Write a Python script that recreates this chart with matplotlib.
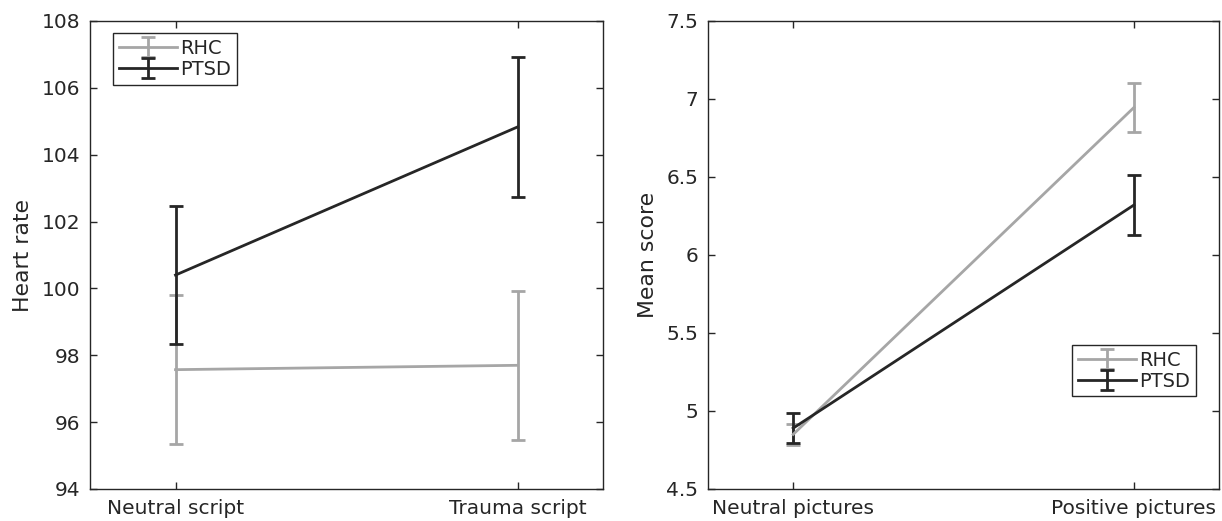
import matplotlib
matplotlib.use("Agg")
import matplotlib.pyplot as plt
import numpy as np

plt.rcParams['font.family'] = ['DejaVu Sans']

# Left panel data
hr_conditions = ["Neutral script", "Trauma script"]
hr_rhc_mean = [97.57, 97.70]
hr_rhc_err = [2.23, 2.22]
hr_ptsd_mean = [100.40, 104.83]
hr_ptsd_err = [2.07, 2.08]
hr_yticks = [94, 96, 98, 100, 102, 104, 106, 108]

# Right panel data
ms_conditions = ["Neutral pictures", "Positive pictures"]
ms_rhc_mean = [4.85, 6.945]
ms_rhc_err = [0.065, 0.155]
ms_ptsd_mean = [4.89, 6.32]
ms_ptsd_err = [0.097, 0.19]
ms_yticks = [4.5, 5, 5.5, 6, 6.5, 7, 7.5]
ms_yticklabels = ["4.5", "5", "5.5", "6", "6.5", "7", "7.5"]

GRAY = "#a6a6a6"
DARK = "#262626"
AXC = "#262626"

fig = plt.figure(figsize=(12.22, 5.21), dpi=100)
ax1 = fig.add_axes([90/1222, 32/521, 513/1222, 468/521])
ax2 = fig.add_axes([708/1222, 32/521, 511/1222, 468/521])

def style(ax):
    for s in ax.spines.values():
        s.set_color(AXC)
        s.set_linewidth(1.0)
    ax.tick_params(direction='in', length=5, width=1.0, colors=AXC,
                   top=True, right=True, labelsize=14.5, pad=7)

x = np.arange(1, 3)

def legend(ax, anchor):
    leg = ax.legend(loc='upper left', bbox_to_anchor=anchor, borderaxespad=0,
                    fontsize=14, handlelength=3.0, handletextpad=0.15, fancybox=False,
                    edgecolor=AXC, framealpha=1, borderpad=0.3, labelspacing=0.1)
    leg.get_frame().set_linewidth(1.0)
    for t in leg.get_texts():
        t.set_color(AXC)

# Left
ax1.errorbar(x, hr_rhc_mean, yerr=hr_rhc_err, color=GRAY, lw=2, capsize=5, capthick=2, label="RHC")
ax1.errorbar(x, hr_ptsd_mean, yerr=hr_ptsd_err, color=DARK, lw=2, capsize=5, capthick=2, label="PTSD")
ax1.set_xlim(0.75, 2.25)
ax1.set_ylim(94, 108)
ax1.set_xticks(x)
ax1.set_xticklabels(hr_conditions)
ax1.set_yticks(hr_yticks)
ax1.set_ylabel("Heart rate", fontsize=15.8, color=AXC, labelpad=6)
style(ax1)
legend(ax1, (0.045, 0.974))

# Right
ax2.errorbar(x, ms_rhc_mean, yerr=ms_rhc_err, color=GRAY, lw=2, capsize=5, capthick=2, label="RHC")
ax2.errorbar(x, ms_ptsd_mean, yerr=ms_ptsd_err, color=DARK, lw=2, capsize=5, capthick=2, label="PTSD")
ax2.set_xlim(0.75, 2.25)
ax2.set_ylim(4.5, 7.5)
ax2.set_xticks(x)
ax2.set_xticklabels(ms_conditions)
ax2.set_yticks(ms_yticks)
ax2.set_yticklabels(ms_yticklabels)
ax2.set_ylabel("Mean score", fontsize=15.8, color=AXC, labelpad=6)
style(ax2)
legend(ax2, (0.712, 0.308))

fig.savefig("out.png", dpi=100, facecolor="white")
